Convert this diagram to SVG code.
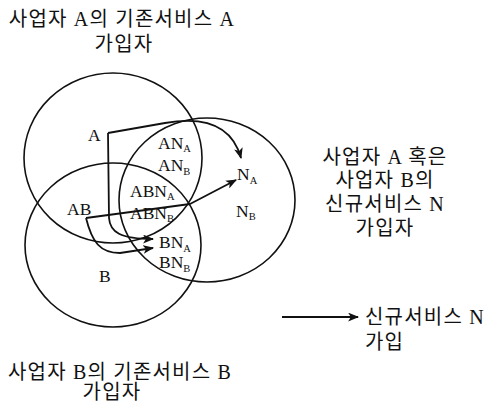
<svg xmlns="http://www.w3.org/2000/svg" width="494" height="402" viewBox="0 0 494 402">
<defs>
<style>
.set{fill:none;stroke:#111;stroke-width:1.6}
.con{fill:none;stroke:#111;stroke-width:1.8;stroke-linejoin:round}
.lbl{font-family:"Liberation Serif","Times New Roman",serif;font-size:17.5px;fill:#111}
.sub{font-size:10.5px}
.kr{font-family:"Liberation Serif","Noto Sans CJK KR",serif;font-size:20px;letter-spacing:1.2px;fill:#111}
.mid{text-anchor:middle}
</style>
<marker id="ah" viewBox="0 0 10 8" refX="9" refY="4" markerWidth="11" markerHeight="9" orient="auto" markerUnits="userSpaceOnUse">
<path d="M0,0 L10,4 L0,8 L2.5,4 z" fill="#111"/>
</marker>
</defs>
<rect width="494" height="402" fill="#fff"/>

<g id="set-a">
<ellipse class="set" cx="113" cy="158" rx="89" ry="85"/>
</g>
<g id="set-b">
<ellipse class="set" cx="113" cy="245" rx="88" ry="82"/>
</g>
<g id="set-n">
<ellipse class="set" cx="207" cy="200" rx="88" ry="82"/>
</g>

<g id="connectors">
<path class="con" d="M108,133 L165,123 C205,116 232,125 241,158" marker-end="url(#ah)"/>
<path class="con" d="M86,218 L190,204 L236,180" marker-end="url(#ah)"/>
<path class="con" d="M108,133 L109,218 C110,232 120,239 153,239" marker-end="url(#ah)"/>
<path class="con" d="M86,218 C92,242 100,253 120,253 L153,248" marker-end="url(#ah)"/>
</g>

<g id="region-labels">
<text class="lbl" x="88" y="141">A</text>
<text class="lbl" x="158" y="149">AN<tspan class="sub" dy="3">A</tspan></text>
<text class="lbl" x="158" y="171">AN<tspan class="sub" dy="4">B</tspan></text>
<text class="lbl" x="130" y="197">ABN<tspan class="sub" dy="3">A</tspan></text>
<text class="lbl" x="130" y="219">ABN<tspan class="sub" dy="3">B</tspan></text>
<text class="lbl" x="67" y="215">AB</text>
<text class="lbl" x="237" y="180">N<tspan class="sub" dy="4">A</tspan></text>
<text class="lbl" x="236" y="217">N<tspan class="sub" dy="3">B</tspan></text>
<text class="lbl" x="159" y="248">BN<tspan class="sub" dy="4">A</tspan></text>
<text class="lbl" x="159" y="268">BN<tspan class="sub" dy="4">B</tspan></text>
<text class="lbl" x="99" y="282">B</text>
</g>

<g id="caption-a">
<text class="kr mid" x="122" y="26">사업자 A의 기존서비스 A</text>
<text class="kr mid" x="124" y="51">가입자</text>
</g>
<g id="caption-n">
<text class="kr mid" x="385" y="164">사업자 A 혹은</text>
<text class="kr mid" x="385" y="187">사업자 B의</text>
<text class="kr mid" x="385" y="211">신규서비스 N</text>
<text class="kr mid" x="385" y="235">가입자</text>
</g>
<g id="caption-b">
<text class="kr mid" x="120" y="379">사업자 B의 기존서비스 B</text>
<text class="kr mid" x="112" y="399">가입자</text>
</g>
<g id="legend">
<path class="con" d="M282,317 L358,317" marker-end="url(#ah)"/>
<text class="kr" x="365" y="324">신규서비스 N</text>
<text class="kr" x="365" y="349">가입</text>
</g>
</svg>
